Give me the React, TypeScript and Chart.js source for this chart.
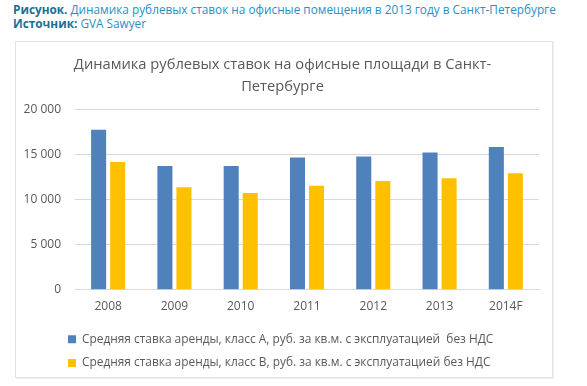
import React, { useEffect, useRef } from "react";
import { Chart, registerables } from "chart.js";

Chart.register(...registerables);

const categories = ["2008", "2009", "2010", "2011", "2012", "2013", "2014F"];
const classA = [17700, 13700, 13700, 14650, 14750, 15200, 15800];
const classB = [14150, 11350, 10700, 11500, 12050, 12350, 12900];
const seriesLabels = [
  "Средняя ставка аренды, класс А, руб. за кв.м. с эксплуатацией  без НДС",
  "Средняя ставка аренды, класс В, руб. за кв.м. с эксплуатацией без НДС",
];
const titleLines = ["Динамика рублевых ставок на офисные площади в Санкт-", "Петербурге"];
const yMin = 0;
const yMax = 20000;
const yStep = 5000;

const FONT = "'Open Sans', 'Noto Sans', sans-serif";
const TEXT = "#595959";

const blockShift = {
  id: "blockShift",
  afterLayout(chart: any) {
    if (chart.legend) chart.legend.left = 40;
    if (chart.titleBlock) {
      chart.titleBlock.left = 0;
      chart.titleBlock.right = 533;
    }
  },
};

export default function App() {
  const ref = useRef<HTMLCanvasElement | null>(null);

  useEffect(() => {
    if (!ref.current) return;
    const chart = new Chart(ref.current, {
      type: "bar",
      data: {
        labels: categories,
        datasets: [
          {
            label: seriesLabels[0],
            data: classA,
            backgroundColor: "#4F81BD",
            categoryPercentage: 0.575,
            barPercentage: 0.79,
          },
          {
            label: seriesLabels[1],
            data: classB,
            backgroundColor: "#FFC000",
            categoryPercentage: 0.575,
            barPercentage: 0.79,
          },
        ],
      },
      plugins: [blockShift],
      options: {
        animation: false,
        responsive: false,
        devicePixelRatio: 1,
        layout: { padding: { left: 0, right: 13, top: 0, bottom: 0 } },
        plugins: {
          tooltip: { enabled: false },
          title: {
            display: true,
            text: titleLines,
            color: TEXT,
            font: { family: FONT, size: 14.7, weight: "normal", lineHeight: 1.5 },
            padding: { top: 12, bottom: 11 },
          },
          legend: {
            display: true,
            position: "bottom",
            align: "start",
            labels: {
              boxWidth: 8,
              boxHeight: 8,
              padding: 12,
              color: TEXT,
              font: { family: FONT, size: 11.9 },
            },
          },
        },
        scales: {
          x: {
            grid: { display: false, drawTicks: false },
            border: { display: true, color: "#d9d9d9" },
            ticks: { color: TEXT, font: { family: FONT, size: 12 }, padding: 10 },
            afterFit: (s: any) => {
              s.height = 31.5;
            },
          },
          y: {
            min: yMin,
            max: yMax,
            grid: { color: "#d9d9d9", drawTicks: false },
            border: { display: false },
            ticks: {
              stepSize: yStep,
              color: TEXT,
              padding: 14,
              font: { family: FONT, size: 12 },
              callback: (v: any) => String(v).replace(/\B(?=(\d{3})+(?!\d))/g, " "),
            },
            afterFit: (s: any) => {
              s.width = 59;
            },
          },
        },
      },
    });
    return () => chart.destroy();
  }, []);

  return (
    <div style={{ position: "absolute", left: 0, top: 0, width: 587, height: 386, background: "#fff", fontFamily: FONT }}>
      <div style={{ position: "absolute", left: 13, top: 2, fontSize: 11.8, lineHeight: "14px", color: "#2a8fc4", whiteSpace: "nowrap" }}>
        <span style={{ fontWeight: "bold", color: "#1d6e94" }}>Рисунок.</span> Динамика рублевых ставок на офисные помещения в 2013 году в Санкт-Петербурге
      </div>
      <div style={{ position: "absolute", left: 13, top: 16, fontSize: 11.8, lineHeight: "14px", color: "#2a8fc4", whiteSpace: "nowrap" }}>
        <span style={{ fontWeight: "bold", color: "#1d6e94" }}>Источник:</span> GVA Sawyer
      </div>
      <div
        style={{
          position: "absolute",
          left: 15,
          top: 41,
          width: 536,
          height: 335,
          border: "1px solid #e3e3e3",
          boxShadow: "1px 1px 0 #efefef",
        }}
      />
      <canvas ref={ref} width={536} height={337} style={{ position: "absolute", left: 16, top: 42, display: "block" }} />
    </div>
  );
}
